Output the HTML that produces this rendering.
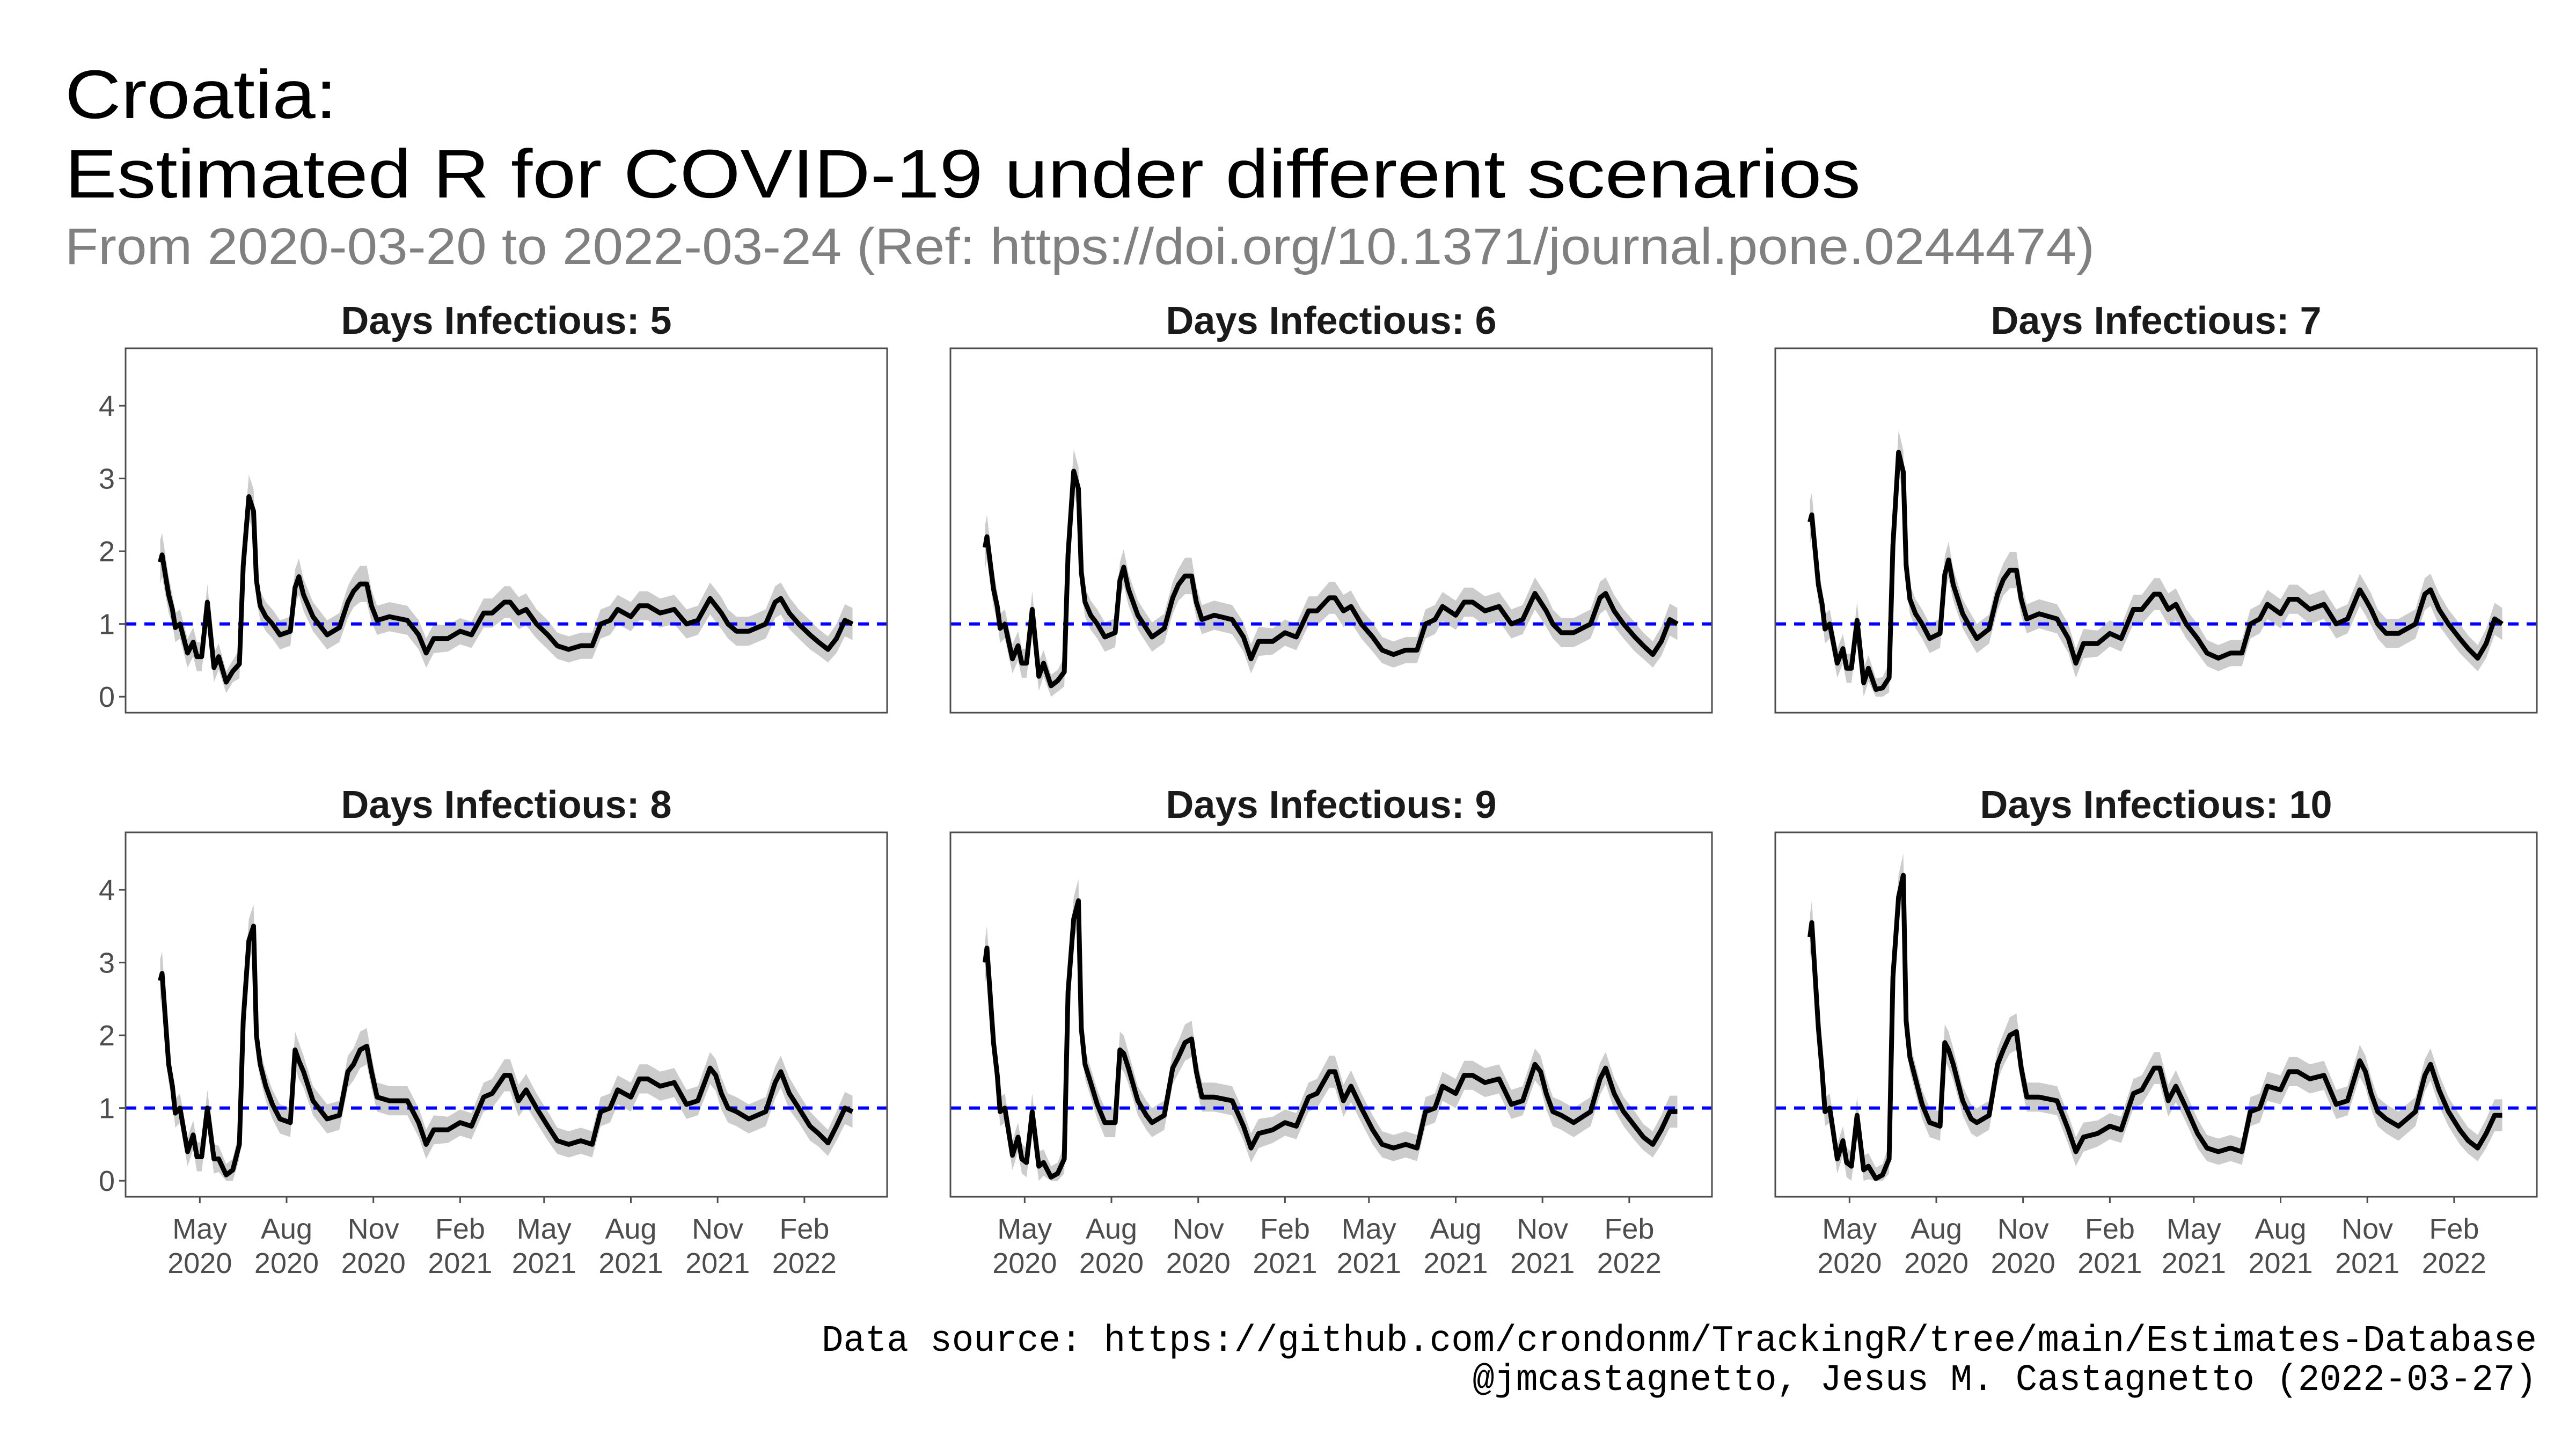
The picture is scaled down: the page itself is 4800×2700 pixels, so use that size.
<!DOCTYPE html>
<html><head><meta charset="utf-8">
<style>
html,body{margin:0;padding:0;background:#fff;}
svg{display:block;}
</style></head>
<body>
<svg id="chart" width="4800" height="2700" viewBox="0 0 4800 2700" xmlns="http://www.w3.org/2000/svg">
<rect x="0" y="0" width="4800" height="2700" fill="#ffffff"/>
<text x="121" y="220" font-family="Liberation Sans, sans-serif" font-size="128" fill="#000" textLength="507" lengthAdjust="spacingAndGlyphs">Croatia:</text>
<text x="121" y="368" font-family="Liberation Sans, sans-serif" font-size="128" fill="#000" textLength="3346" lengthAdjust="spacingAndGlyphs">Estimated R for COVID-19 under different scenarios</text>
<text x="121" y="492" font-family="Liberation Sans, sans-serif" font-size="96" fill="#808080" textLength="3782" lengthAdjust="spacingAndGlyphs">From 2020-03-20 to 2022-03-24 (Ref: https://doi.org/10.1371/journal.pone.0244474)</text>
<text x="4727" y="2517" text-anchor="end" font-family="Liberation Mono, monospace" font-size="70" fill="#000" textLength="3196" lengthAdjust="spacingAndGlyphs">Data source: https://github.com/crondonm/TrackingR/tree/main/Estimates-Database</text>
<text x="4727" y="2590" text-anchor="end" font-family="Liberation Mono, monospace" font-size="70" fill="#000" textLength="1983" lengthAdjust="spacingAndGlyphs">@jmcastagnetto, Jesus M. Castagnetto (2022-03-27)</text>
<g id="panels"></g>
</svg>
<script>
// Days since 2020-03-20
const days = [0,2,9,13,16,21,29,35,39,44,50,57,62,70,77,84,88,94,99,102,106,112,119,127,138,143,147,152,162,171,177,190,199,205,212,219,224,230,243,262,274,282,290,305,318,330,343,352,365,371,380,388,399,411,421,433,446,458,467,477,485,499,508,517,530,545,558,570,583,589,595,602,611,624,642,652,658,667,677,689,698,708,717,726,734];
const r5 = [1.85,1.95,1.4,1.2,0.95,1.0,0.6,0.75,0.55,0.55,1.3,0.4,0.55,0.2,0.35,0.45,1.8,2.75,2.55,1.6,1.25,1.1,1.0,0.85,0.9,1.5,1.65,1.4,1.1,0.95,0.85,0.95,1.3,1.45,1.55,1.55,1.25,1.05,1.1,1.05,0.85,0.6,0.8,0.8,0.9,0.85,1.15,1.15,1.3,1.3,1.15,1.2,1.0,0.85,0.7,0.65,0.7,0.7,1.0,1.05,1.2,1.1,1.25,1.25,1.15,1.2,1.0,1.05,1.35,1.25,1.15,1.0,0.9,0.9,1.0,1.3,1.35,1.15,1.0,0.85,0.75,0.65,0.8,1.05,1.0];
const r6 = [2.05,2.2,1.48,1.24,0.94,1.0,0.52,0.7,0.46,0.46,1.2,0.28,0.46,0.15,0.22,0.34,1.96,3.1,2.86,1.72,1.3,1.12,1.0,0.82,0.88,1.6,1.78,1.48,1.12,0.94,0.82,0.94,1.36,1.54,1.66,1.66,1.3,1.06,1.12,1.06,0.82,0.52,0.76,0.76,0.88,0.82,1.18,1.18,1.36,1.36,1.18,1.24,1.0,0.82,0.64,0.58,0.64,0.64,1.0,1.06,1.24,1.12,1.3,1.3,1.18,1.24,1.0,1.06,1.42,1.3,1.18,1.0,0.88,0.88,1.0,1.36,1.42,1.18,1.0,0.82,0.7,0.58,0.76,1.06,1.0];
const r7 = [2.4,2.5,1.54,1.27,0.93,1.0,0.46,0.66,0.39,0.39,1.05,0.19,0.39,0.1,0.12,0.26,2.08,3.36,3.09,1.81,1.34,1.14,1.0,0.8,0.87,1.68,1.88,1.54,1.14,0.93,0.8,0.93,1.41,1.61,1.74,1.74,1.34,1.07,1.14,1.07,0.8,0.46,0.73,0.73,0.87,0.8,1.2,1.2,1.41,1.41,1.2,1.27,1.0,0.8,0.6,0.53,0.6,0.6,1.0,1.07,1.27,1.14,1.34,1.34,1.2,1.27,1.0,1.07,1.47,1.34,1.2,1.0,0.87,0.87,1.0,1.41,1.47,1.2,1.0,0.8,0.66,0.53,0.73,1.07,1.0];
const r8 = [2.75,2.85,1.6,1.3,0.93,1.0,0.4,0.63,0.33,0.33,1.0,0.3,0.3,0.08,0.15,0.5,2.2,3.3,3.5,2.0,1.6,1.3,1.05,0.85,0.8,1.8,1.65,1.5,1.1,0.95,0.85,0.9,1.5,1.6,1.8,1.85,1.5,1.15,1.1,1.1,0.8,0.5,0.7,0.7,0.8,0.75,1.15,1.2,1.45,1.45,1.1,1.25,1.0,0.75,0.55,0.5,0.55,0.5,0.95,1.0,1.25,1.15,1.4,1.4,1.3,1.35,1.05,1.1,1.55,1.45,1.2,1.0,0.95,0.85,0.95,1.35,1.5,1.2,1.0,0.75,0.65,0.52,0.75,1.0,0.95];
const r9 = [3.0,3.2,1.9,1.45,0.95,1.0,0.35,0.6,0.3,0.25,0.95,0.2,0.25,0.05,0.1,0.3,2.6,3.6,3.85,2.1,1.6,1.35,1.05,0.8,0.8,1.8,1.75,1.55,1.1,0.9,0.8,0.9,1.55,1.7,1.9,1.95,1.5,1.15,1.15,1.1,0.75,0.45,0.65,0.7,0.8,0.75,1.15,1.2,1.5,1.5,1.1,1.3,1.0,0.7,0.5,0.45,0.5,0.45,0.95,1.0,1.3,1.2,1.45,1.45,1.35,1.4,1.05,1.1,1.6,1.5,1.2,0.95,0.9,0.8,0.95,1.4,1.55,1.2,0.95,0.75,0.6,0.5,0.7,0.95,0.95];
const r10 = [3.35,3.55,2.1,1.5,0.95,1.0,0.3,0.55,0.25,0.2,0.9,0.15,0.2,0.03,0.08,0.3,2.8,3.9,4.2,2.2,1.7,1.4,1.05,0.8,0.75,1.9,1.8,1.6,1.1,0.85,0.8,0.9,1.6,1.8,2.0,2.05,1.55,1.15,1.15,1.1,0.7,0.4,0.6,0.65,0.75,0.7,1.2,1.25,1.55,1.55,1.1,1.3,1.0,0.65,0.45,0.4,0.45,0.4,0.95,1.0,1.3,1.25,1.5,1.5,1.4,1.45,1.05,1.1,1.65,1.5,1.2,0.95,0.85,0.75,0.95,1.45,1.6,1.25,0.95,0.7,0.55,0.45,0.65,0.9,0.9];
const bandHalf = [0.3,0.3,0.25,0.2,0.2,0.2,0.2,0.2,0.2,0.2,0.25,0.2,0.18,0.15,0.15,0.2,0.3,0.3,0.3,0.25,0.2,0.2,0.2,0.2,0.2,0.25,0.25,0.22,0.2,0.2,0.2,0.2,0.22,0.22,0.25,0.25,0.22,0.2,0.2,0.2,0.2,0.2,0.2,0.18,0.18,0.18,0.2,0.2,0.22,0.22,0.22,0.22,0.2,0.2,0.18,0.18,0.18,0.18,0.2,0.2,0.2,0.2,0.2,0.2,0.2,0.2,0.2,0.2,0.22,0.22,0.22,0.2,0.2,0.2,0.2,0.22,0.22,0.22,0.2,0.2,0.18,0.18,0.2,0.22,0.22];
const panelTitles = ["Days Infectious: 5","Days Infectious: 6","Days Infectious: 7","Days Infectious: 8","Days Infectious: 9","Days Infectious: 10"];
const yTicks = [0,1,2,3,4];
const xTickDays = [42,134,226,318,407,499,591,683];
const xTickMonths = ["May","Aug","Nov","Feb","May","Aug","Nov","Feb"];
const xTickYears = ["2020","2020","2020","2021","2021","2021","2021","2022"];
const seriesList = [r5,r6,r7,r8,r9,r10];

const NS = "http://www.w3.org/2000/svg";
const root = document.getElementById('panels');
const colX = [234,1771,3308], rowY = [649,1551], PW = 1419, PH = 679;
const dMin = 0, dMax = 734, yMin = -0.22, yMax = 4.79;
function mk(tag, attrs, parent){ const e=document.createElementNS(NS,tag); for(const k in attrs) e.setAttribute(k,attrs[k]); parent.appendChild(e); return e; }

seriesList.forEach((vals, p) => {
  const col = p % 3, row = Math.floor(p / 3);
  const L = colX[col], T = rowY[row];
  const span = (dMax - dMin) * 1.1;
  const xs = d => L + (d - dMin + (dMax - dMin) * 0.05) / span * PW;
  const ys = v => T + PH - (v - yMin) / (yMax - yMin) * PH;
  const g = mk('g', {}, root);
  
  
  const n = Math.min(days.length, vals.length, bandHalf.length);
  // band
  let up = [], lo = [];
  for (let i = 0; i < n; i++) {
    up.push(xs(days[i]).toFixed(1) + ',' + ys(vals[i] + bandHalf[i]).toFixed(1));
    lo.push(xs(days[i]).toFixed(1) + ',' + ys(Math.max(0, vals[i] - bandHalf[i])).toFixed(1));
  }
  const band = mk('polygon', {points: up.concat(lo.reverse()).join(' '), fill: '#cccccc'}, g);
  
  
  // reference line
  const ref = mk('line', {x1: L, x2: L + PW, y1: ys(1), y2: ys(1), stroke: '#0000ff', 'stroke-width': 6, 'stroke-dasharray': '20 15'}, g);
  
  
  // median line
  let pts = [];
  for (let i = 0; i < n; i++) pts.push(xs(days[i]).toFixed(1) + ',' + ys(vals[i]).toFixed(1));
  const line = mk('polyline', {points: pts.join(' '), fill: 'none', stroke: '#000', 'stroke-width': 9, 'stroke-linejoin': 'round'}, g);
  
  
  // border
  const border = mk('rect', {x: L, y: T, width: PW, height: PH, fill: 'none', stroke: '#4d4d4d', 'stroke-width': 3}, g);
  
  
  // title
  const tt = mk('text', {x: L + PW / 2, y: T - 27, 'text-anchor': 'middle', 'font-family': 'Liberation Sans, sans-serif', 'font-weight': 'bold', 'font-size': 72, fill: '#1a1a1a'}, g);
  tt.textContent = panelTitles[p];
  
  
  // y axis
  if (col === 0) {
    yTicks.forEach(v => {
      const tk = mk('line', {x1: L - 12, x2: L, y1: ys(v), y2: ys(v), stroke: '#4d4d4d', 'stroke-width': 3}, g);
      
      
      const lb = mk('text', {x: L - 20, y: ys(v) + 19, 'text-anchor': 'end', 'font-family': 'Liberation Sans, sans-serif', 'font-size': 54, fill: '#4d4d4d'}, g);
      lb.textContent = String(v);
      
      
    });
  }
  // x axis
  if (row === 1) {
    xTickDays.forEach((d, i) => {
      const x = xs(d);
      const tk = mk('line', {x1: x, x2: x, y1: T + PH, y2: T + PH + 12, stroke: '#4d4d4d', 'stroke-width': 3}, g);
      
      
      const lb = mk('text', {x: x, y: T + PH + 78, 'text-anchor': 'middle', 'font-family': 'Liberation Sans, sans-serif', 'font-size': 54, fill: '#4d4d4d'}, g);
      lb.textContent = xTickMonths[i];
      
      
      const lb2 = mk('text', {x: x, y: T + PH + 142, 'text-anchor': 'middle', 'font-family': 'Liberation Sans, sans-serif', 'font-size': 54, fill: '#4d4d4d'}, g);
      lb2.textContent = xTickYears[i];
      
      
    });
  }
});
</script>
</body></html>
